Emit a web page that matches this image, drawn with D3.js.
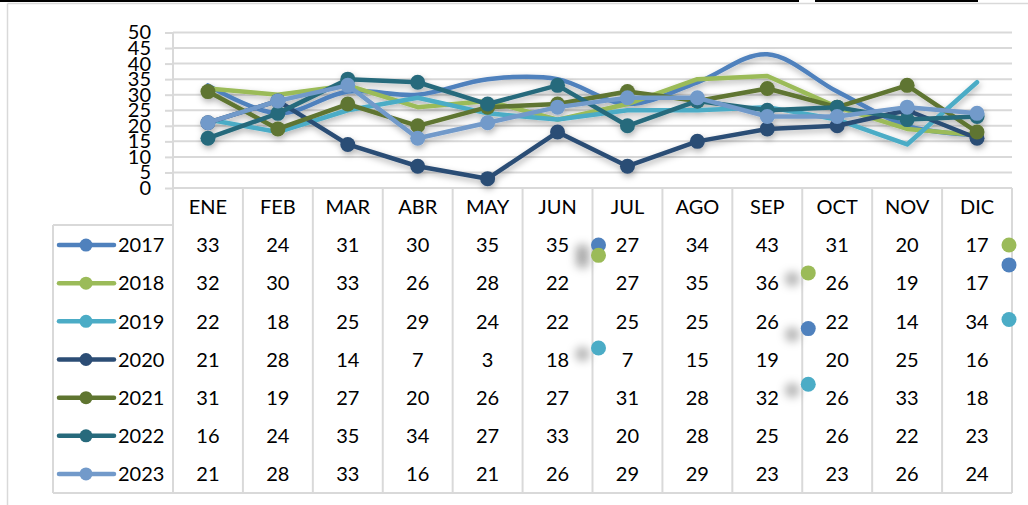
<!DOCTYPE html>
<html>
<head>
<meta charset="utf-8">
<script src="https://cdn.jsdelivr.net/npm/d3@7"></script>
<style>
  body { margin: 0; background: #fff; }
  svg { display: block; font-family: Lato, "Open Sans", sans-serif; }
</style>
</head>
<body>
<div id="chart"></div>
<script>
// chart data
var months = ['ENE', 'FEB', 'MAR', 'ABR', 'MAY', 'JUN', 'JUL', 'AGO', 'SEP', 'OCT', 'NOV', 'DIC'];
var years = ['2017', '2018', '2019', '2020', '2021', '2022', '2023'];
var v2017 = [33, 24, 31, 30, 35, 35, 27, 34, 43, 31, 20, 17];
var v2018 = [32, 30, 33, 26, 28, 22, 27, 35, 36, 26, 19, 17];
var v2019 = [22, 18, 25, 29, 24, 22, 25, 25, 26, 22, 14, 34];
var v2020 = [21, 28, 14, 7, 3, 18, 7, 15, 19, 20, 25, 16];
var v2021 = [31, 19, 27, 20, 26, 27, 31, 28, 32, 26, 33, 18];
var v2022 = [16, 24, 35, 34, 27, 33, 20, 28, 25, 26, 22, 23];
var v2023 = [21, 28, 33, 16, 21, 26, 29, 29, 23, 23, 26, 24];
var yTicks = [0, 5, 10, 15, 20, 25, 30, 35, 40, 45, 50];

// markers of the first three series that ended up drawn over the table
// (column boundary index, table row index)
var strayMarks = [
  { year: '2017', col: 6, row: 0 },
  { year: '2018', col: 6, row: 0.27 },
  { year: '2019', col: 6, row: 2.7 },
  { year: '2018', col: 9, row: 0.73 },
  { year: '2017', col: 9, row: 2.19 },
  { year: '2019', col: 9, row: 3.65 },
  { year: '2018', col: 12, row: 0 },
  { year: '2017', col: 12, row: 0.52 },
  { year: '2019', col: 12, row: 1.95 }
];

var values = [v2017, v2018, v2019, v2020, v2021, v2022, v2023];
var colors = ['#4F81BD', '#9BBB59', '#4BACC6', '#2C4D75', '#5F7530', '#276A7C', '#729ACA'];
var smooth = [true, false, false, false, false, false, false];
var showMarkers = [false, false, false, true, true, true, true];

var series = years.map(function(y, i) {
  return { year: y, values: values[i], color: colors[i], smooth: smooth[i], markers: showMarkers[i] };
});

var svgWidth = 1028, svgHeight = 505;
var plotLeft = 173, plotRight = 1012, plotTop = 32.5, plotBottom = 188;
var headerBottom = 226, tableBottom = 493, legendLeft = 53;
var gridColor = '#d9d9d9';
var fontSize = 20;

var svg = d3.select('#chart').append('svg')
  .attr('width', svgWidth)
  .attr('height', svgHeight);

var defs = svg.append('defs');
var shadow = defs.append('filter').attr('id', 'shadow')
  .attr('x', '-20%').attr('y', '-40%').attr('width', '140%').attr('height', '180%');
shadow.append('feDropShadow')
  .attr('dx', 1).attr('dy', 3).attr('stdDeviation', 3)
  .attr('flood-color', '#000').attr('flood-opacity', 0.3);

var strayShadow = defs.append('filter').attr('id', 'strayShadow')
  .attr('filterUnits', 'userSpaceOnUse')
  .attr('x', 0).attr('y', 0).attr('width', svgWidth).attr('height', svgHeight);
strayShadow.append('feDropShadow')
  .attr('dx', -16).attr('dy', 6).attr('stdDeviation', 4)
  .attr('flood-color', '#000').attr('flood-opacity', 0.28);

// page decoration: black rules at top and chart border
svg.append('line').attr('x1', 7.5).attr('x2', svgWidth).attr('y1', 3.5).attr('y2', 3.5)
  .attr('stroke', gridColor).attr('stroke-width', 1.5);
svg.append('line').attr('x1', 7.5).attr('x2', 7.5).attr('y1', 3.5).attr('y2', svgHeight)
  .attr('stroke', gridColor).attr('stroke-width', 1.5);
svg.append('line').attr('x1', 0).attr('x2', 799).attr('y1', 1).attr('y2', 1)
  .attr('stroke', '#000').attr('stroke-width', 2);
svg.append('line').attr('x1', 815).attr('x2', 978).attr('y1', 1).attr('y2', 1)
  .attr('stroke', '#000').attr('stroke-width', 2);

// scales
var xScale = d3.scaleBand().domain(months).range([plotLeft, plotRight]);
var yScale = d3.scaleLinear().domain([0, 50]).range([plotBottom, plotTop]);
var rowScale = d3.scaleBand().domain(years).range([headerBottom, tableBottom]);
var xMid = function(m) { return xScale(m) + xScale.bandwidth() / 2; };

// gridlines
svg.append('g').selectAll('line')
  .data(yTicks.filter(function(t) { return t > 0; }))
  .enter().append('line')
  .attr('x1', plotLeft).attr('x2', plotRight)
  .attr('y1', function(d) { return yScale(d); })
  .attr('y2', function(d) { return yScale(d); })
  .attr('stroke', gridColor).attr('stroke-width', 2);

// y axis
var leftAxis = d3.axisLeft(yScale).tickValues(yTicks).tickSize(8).tickPadding(14);
var yAxisG = svg.append('g')
  .attr('transform', 'translate(' + plotLeft + ',0)')
  .call(leftAxis);
yAxisG.select('.domain').remove();
yAxisG.selectAll('line').attr('stroke', gridColor).attr('stroke-width', 2);
yAxisG.selectAll('text')
  .attr('font-size', fontSize).attr('fill', '#000')
  .style('font-family', 'Lato, sans-serif');

// table lines
var tableG = svg.append('g');
var bounds = months.map(function(m) { return xScale(m); }).concat([plotRight]);
tableG.selectAll('line.col')
  .data(bounds)
  .enter().append('line')
  .attr('class', 'col')
  .attr('x1', function(d) { return d; })
  .attr('x2', function(d) { return d; })
  .attr('y1', function(d, i) { return i === 0 ? plotTop : plotBottom; })
  .attr('y2', tableBottom)
  .attr('stroke', gridColor).attr('stroke-width', 2);
tableG.append('line')
  .attr('x1', plotLeft).attr('x2', plotRight)
  .attr('y1', plotBottom).attr('y2', plotBottom)
  .attr('stroke', gridColor).attr('stroke-width', 2);
tableG.append('line')
  .attr('x1', legendLeft).attr('x2', plotLeft)
  .attr('y1', headerBottom - 1).attr('y2', headerBottom - 1)
  .attr('stroke', gridColor).attr('stroke-width', 2);
tableG.append('line')
  .attr('x1', legendLeft).attr('x2', legendLeft)
  .attr('y1', headerBottom - 1).attr('y2', tableBottom)
  .attr('stroke', gridColor).attr('stroke-width', 2);
tableG.append('line')
  .attr('x1', legendLeft).attr('x2', plotRight)
  .attr('y1', tableBottom).attr('y2', tableBottom)
  .attr('stroke', gridColor).attr('stroke-width', 2);

// header
tableG.selectAll('text.month')
  .data(months)
  .enter().append('text')
  .attr('class', 'month')
  .attr('x', xMid)
  .attr('y', (plotBottom + headerBottom) / 2)
  .attr('dy', '0.36em')
  .attr('text-anchor', 'middle')
  .attr('font-size', fontSize)
  .text(function(d) { return d; });

// rows
var rowH = rowScale.bandwidth();
var rows = tableG.selectAll('g.row')
  .data(series)
  .enter().append('g')
  .attr('class', 'row')
  .attr('transform', function(d) { return 'translate(0,' + (rowScale(d.year) + rowH / 2) + ')'; });

rows.selectAll('text.val')
  .data(function(d) { return d.values; })
  .enter().append('text')
  .attr('class', 'val')
  .attr('x', function(d, i) { return xMid(months[i]); })
  .attr('dy', '0.36em')
  .attr('text-anchor', 'middle')
  .attr('font-size', fontSize)
  .text(function(d) { return d; });

rows.append('line')
  .attr('x1', 59).attr('x2', 114)
  .attr('stroke', function(d) { return d.color; })
  .attr('stroke-width', 4.5)
  .attr('stroke-linecap', 'round');
rows.append('circle')
  .attr('cx', 86).attr('r', 6.5)
  .attr('fill', function(d) { return d.color; });
rows.append('text')
  .attr('x', 118)
  .attr('dy', '0.36em')
  .attr('font-size', fontSize)
  .text(function(d) { return d.year; });

// series lines
var lineStraight = d3.line()
  .x(function(d, i) { return xMid(months[i]); })
  .y(function(d) { return yScale(d); });
var lineSmooth = d3.line()
  .x(function(d, i) { return xMid(months[i]); })
  .y(function(d) { return yScale(d); })
  .curve(d3.curveCardinal.tension(0));

var seriesG = svg.append('g').attr('filter', 'url(#shadow)');
series.forEach(function(s) {
  var g = seriesG.append('g');
  g.append('path')
    .datum(s.values)
    .attr('d', s.smooth ? lineSmooth : lineStraight)
    .attr('fill', 'none')
    .attr('stroke', s.color)
    .attr('stroke-width', 4.5)
    .attr('stroke-linejoin', 'round')
    .attr('stroke-linecap', 'round');
  if (s.markers) {
    g.selectAll('circle')
      .data(s.values)
      .enter().append('circle')
      .attr('cx', function(d, i) { return xMid(months[i]); })
      .attr('cy', function(d) { return yScale(d); })
      .attr('r', 7.5)
      .attr('fill', s.color);
  }
});

// stray markers
var colorOf = d3.scaleOrdinal().domain(years).range(colors);
svg.append('g').selectAll('circle')
  .data(strayMarks)
  .enter().append('circle')
  .attr('cx', function(d) { return bounds[d.col] + (d.col === 12 ? -3 : 6); })
  .attr('cy', function(d) { return headerBottom + rowH * (d.row + 0.5); })
  .attr('r', 7.5)
  .attr('fill', function(d) { return colorOf(d.year); })
  .attr('filter', function(d) { return d.col === 12 ? null : 'url(#strayShadow)'; });
</script>
</body>
</html>
